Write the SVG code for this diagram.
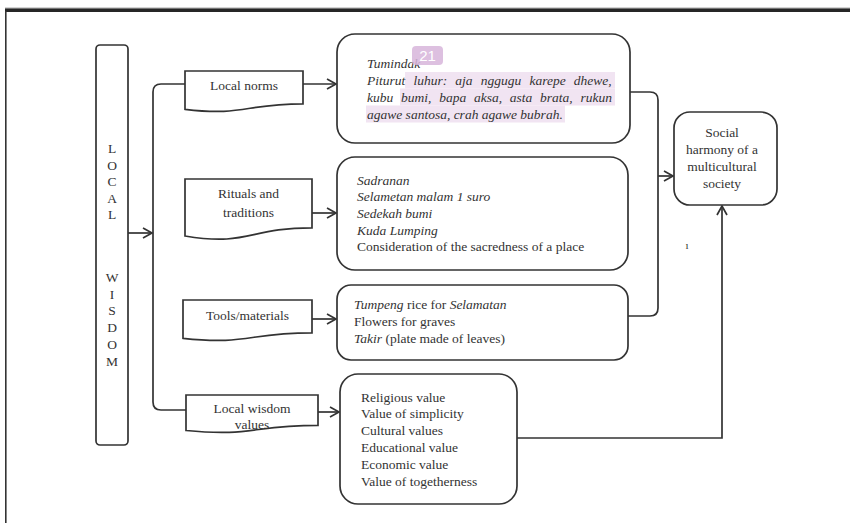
<svg xmlns="http://www.w3.org/2000/svg" width="850" height="523" viewBox="0 0 850 523">
<style>
text{font-family:"Liberation Serif","Times New Roman",serif;font-size:13.5px;fill:#333}
.it{font-style:italic}
.c{text-anchor:middle}
.box{fill:#fff;stroke:#333;stroke-width:1.7}
.ln{fill:none;stroke:#333;stroke-width:1.7}
.hl{fill:#f1e4f2}
</style>
<defs>
<marker id="ah" markerUnits="userSpaceOnUse" markerWidth="12" markerHeight="14" refX="10" refY="6" orient="auto">
<path d="M1,1 L10,6 L1,11" fill="none" stroke="#333" stroke-width="1.7"/>
</marker>
</defs>
<rect width="850" height="523" fill="#fff"/>
<g id="frame">
<rect x="5" y="7.5" width="845" height="1.2" fill="#aaa"/>
<rect x="5" y="8.5" width="845" height="3.5" fill="#262626"/>
<line x1="5.8" y1="11" x2="5.8" y2="523" stroke="#333" stroke-width="1.6"/>
</g>
<g id="connectors">
<path class="ln" d="M128,233 H152" marker-end="url(#ah)"/>
<path class="ln" d="M185,84 H161 Q153,84 153,92 V402 Q153,410 161,410 H186"/>
<path class="ln" d="M303,84 H336" marker-end="url(#ah)"/>
<path class="ln" d="M312,213 H336" marker-end="url(#ah)"/>
<path class="ln" d="M312,319 H336" marker-end="url(#ah)"/>
<path class="ln" d="M318,412 H339" marker-end="url(#ah)"/>
<path class="ln" d="M630,92 H650 Q658,92 658,100 V308 Q658,316 650,316 H628"/>
<path class="ln" d="M658,176 H673" marker-end="url(#ah)"/>
<path class="ln" d="M517,438 H722 V206" marker-end="url(#ah)"/>
</g>
<g id="local-wisdom">
<rect class="box" x="96" y="45" width="32" height="400" rx="4"/>
<text class="c" x="112" y="153">L</text>
<text class="c" x="112" y="169.5">O</text>
<text class="c" x="112" y="186">C</text>
<text class="c" x="112" y="202.5">A</text>
<text class="c" x="112" y="219">L</text>
<text class="c" x="112" y="282">W</text>
<text class="c" x="112" y="298.7">I</text>
<text class="c" x="112" y="315.4">S</text>
<text class="c" x="112" y="332.1">D</text>
<text class="c" x="112" y="348.8">O</text>
<text class="c" x="112" y="365.5">M</text>
</g>
<g id="local-norms">
<path class="box" d="M185,71 H303 V103.8 C244,103.8 244,116.4 185,109.3 Z"/>
<text class="c" x="244" y="89.5">Local norms</text>
</g>
<g id="rituals">
<path class="box" d="M185,179 H312 V227.8 C248.5,227.8 248.5,246.5 185,236 Z"/>
<text class="c" x="248.5" y="197.5">Rituals and</text>
<text class="c" x="248.5" y="216.5">traditions</text>
</g>
<g id="tools">
<path class="box" d="M183,300 H312 V332.8 C247.5,332.8 247.5,345.4 183,338.3 Z"/>
<text class="c" x="247.5" y="319.5">Tools/materials</text>
</g>
<g id="values">
<path class="box" d="M186,395 H318 V425.4 C252,425.4 252,437 186,430.5 Z"/>
<text class="c" x="252" y="412.5">Local wisdom</text>
<text class="c" x="252" y="428.5">values</text>
</g>
<g id="norms-content">
<rect class="box" x="337" y="34" width="293" height="109" rx="18"/>
<rect class="hl" x="405" y="72" width="210" height="16.5"/>
<rect class="hl" x="400" y="88.5" width="215" height="17"/>
<rect class="hl" x="366" y="105.5" width="199" height="17"/>
<text class="it" x="367" y="68">Tumindak</text>
<text class="it" x="367" y="84.5" word-spacing="4.8">Piturut luhur: aja nggugu karepe dhewe,</text>
<text class="it" x="367" y="101.5" word-spacing="4.4">kubu bumi, bapa aksa, asta brata, rukun</text>
<text class="it" x="367" y="118.5">agawe santosa, crah agawe bubrah.</text>
<rect x="412" y="46" width="31" height="19" rx="4" fill="#d7b5da" opacity="0.85"/>
<text x="427.5" y="61" text-anchor="middle" style="font-family:'Liberation Sans',Arial,sans-serif;font-size:15px;fill:#fff">21</text>
</g>
<g id="rituals-content">
<rect class="box" x="337" y="157" width="291" height="113" rx="18"/>
<text class="it" x="357" y="184.5">Sadranan</text>
<text class="it" x="357" y="201.2">Selametan malam 1 suro</text>
<text class="it" x="357" y="217.9">Sedekah bumi</text>
<text class="it" x="357" y="234.6">Kuda Lumping</text>
<text x="357" y="251.3">Consideration of the sacredness of a place</text>
</g>
<g id="tools-content">
<rect class="box" x="337" y="285" width="291" height="75" rx="14"/>
<text x="354" y="308.5"><tspan class="it">Tumpeng</tspan> rice for <tspan class="it">Selamatan</tspan></text>
<text x="354" y="325.5">Flowers for graves</text>
<text x="354" y="342.5"><tspan class="it">Takir</tspan> (plate made of leaves)</text>
</g>
<g id="values-content">
<rect class="box" x="340" y="374" width="177" height="130" rx="18"/>
<text x="361" y="401.5">Religious value</text>
<text x="361" y="418.3">Value of simplicity</text>
<text x="361" y="435.1">Cultural values</text>
<text x="361" y="451.9">Educational value</text>
<text x="361" y="468.7">Economic value</text>
<text x="361" y="485.5">Value of togetherness</text>
</g>
<g id="social-harmony">
<rect class="box" x="674" y="112" width="103" height="93" rx="16"/>
<text class="c" x="722" y="136.5">Social</text>
<text class="c" x="722" y="153.5">harmony of a</text>
<text class="c" x="722" y="170.5">multicultural</text>
<text class="c" x="722" y="187.5">society</text>
</g>
<text x="685.5" y="249" style="font-size:11px">ı</text>
</svg>
